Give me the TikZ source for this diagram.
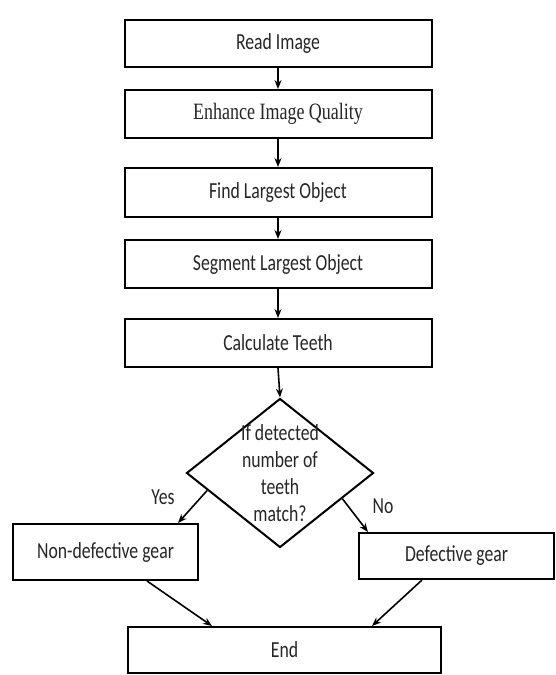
\documentclass[tikz,border=0pt]{standalone}
\usepackage{graphicx}
\usepackage{fontspec}
\setmainfont{Carlito}
\newfontfamily\serifff{Liberation Serif}
\usetikzlibrary{shapes.geometric,arrows.meta,calc}
\newcommand{\vstr}[1]{\scalebox{1}[1.3]{#1}}
\definecolor{txtgray}{HTML}{262626}
\tikzset{
  procbox/.style={draw=black,line width=2pt,rectangle,inner sep=0pt,text=txtgray,font=\fontsize{17.7}{20}\selectfont},
  conn/.style={line width=1.6pt,-{Stealth[length=9pt,width=7pt]}},
  lbl/.style={font=\fontsize{17.7}{20}\selectfont,text=txtgray,inner sep=0pt}
}
\begin{document}
\begin{tikzpicture}[x=1pt,y=-1pt]
\useasboundingbox (0,0) rectangle (556,675);
\node[procbox,minimum width=307pt,minimum height=47pt] (b1) at (278,43.5) {\vstr{Read Image}};
\node[procbox,minimum width=307pt,minimum height=48pt,font=\serifff\fontsize{18}{20}\selectfont] (b2) at (278,114) {\vstr{Enhance Image Quality}};
\node[procbox,minimum width=307pt,minimum height=49pt] (b3) at (278,192.5) {\vstr{Find Largest Object}};
\node[procbox,minimum width=307pt,minimum height=48pt] (b4) at (278,264) {\vstr{Segment Largest Object}};
\node[procbox,minimum width=307pt,minimum height=48pt] (b5) at (278,343) {\vstr{Calculate Teeth}};
\node[draw=black,line width=2pt,diamond,inner sep=0pt,minimum width=187pt,minimum height=149pt] (d) at (280,473) {};
\node[lbl,align=center,font=\fontsize{17.7}{27}\selectfont] (dt) at (280,473) {\vstr{If detected}\\\vstr{number of}\\\vstr{teeth}\\\vstr{match?}};
\node[procbox,minimum width=185pt,minimum height=56pt] (nd) at (105.5,552) {\vstr{Non-defective gear}};
\node[procbox,minimum width=195pt,minimum height=46pt] (df) at (456.5,556) {\vstr{Defective gear}};
\node[procbox,minimum width=313pt,minimum height=46pt] (en) at (284.5,650) {\vstr{End}};
\node[lbl] (yes) at (163,497) {\vstr{Yes}};
\node[lbl] (no) at (383,506) {\vstr{No}};
\draw[conn] (b1.south) -- (b2.north);
\draw[conn] (b2.south) -- (b3.north);
\draw[conn] (b3.south) -- (b4.north);
\draw[conn] (b4.south) -- (b5.north);
\draw[conn] (b5.south) -- (d.north);
\draw[conn] ($(d.west)!0.23!(d.south)$) -- ($(nd.north east)+(-21,0)$);
\draw[conn] ($(d.east)!0.34!(d.south)$) -- ($(df.north west)+(10,0)$);
\draw[conn] ($(nd.south west)+(135,0)$) -- ($(en.north west)+(85,0)$);
\draw[conn] ($(df.south west)+(64,0)$) -- ($(en.north west)+(245,0)$);
\end{tikzpicture}
\end{document}
